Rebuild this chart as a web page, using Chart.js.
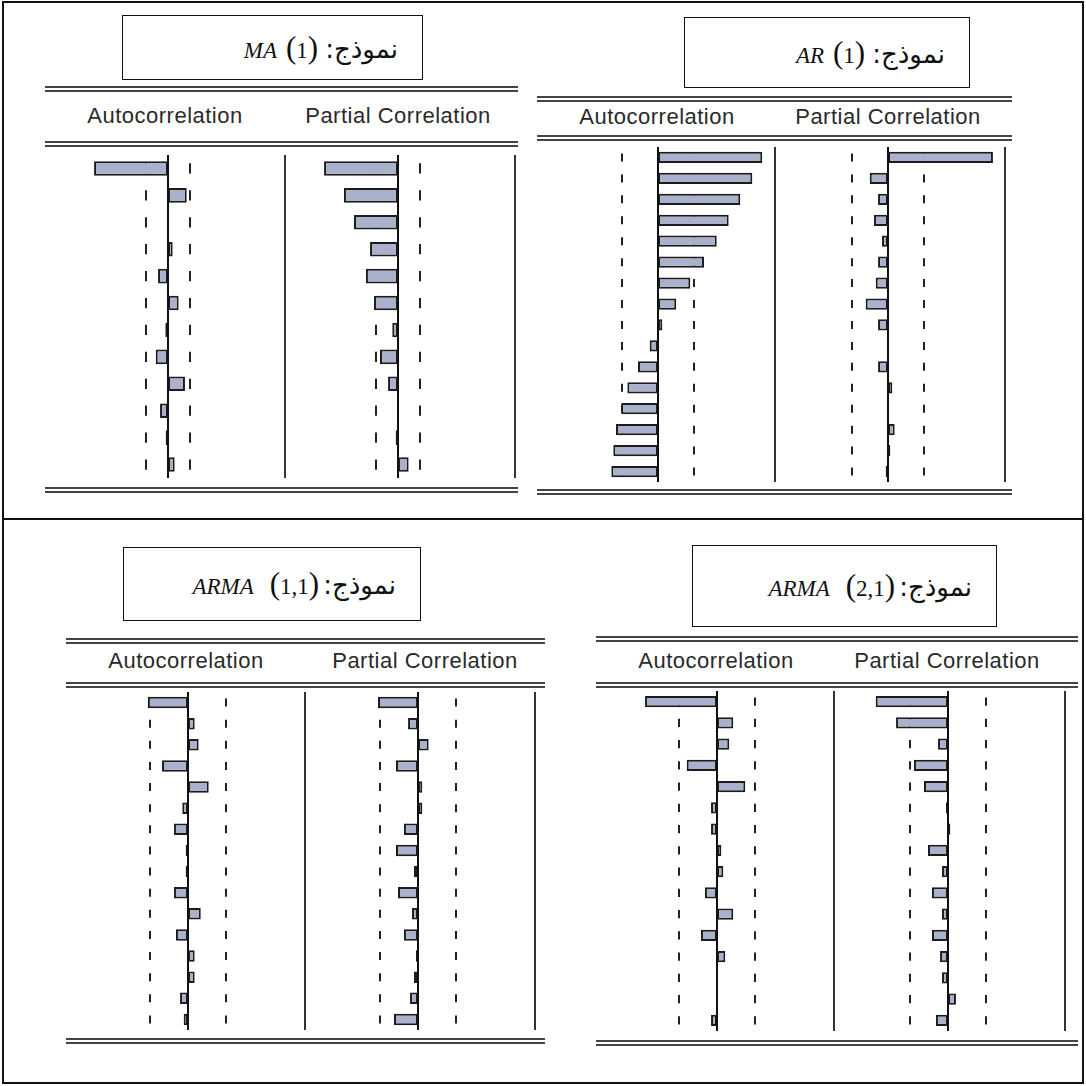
<!DOCTYPE html>
<html>
<head>
<meta charset="utf-8">
<script src="https://cdn.jsdelivr.net/npm/chart.js@4.4.1/dist/chart.umd.min.js"></script>
<style>
  html, body { margin: 0; padding: 0; background: #fff; }
  #page { position: relative; width: 1086px; height: 1086px; background: #fff; overflow: hidden; }
  .ln { position: absolute; background: #444; }
  .fr { position: absolute; background: #111; }
  .hdr { position: absolute; font-family: "Liberation Sans", Arial, sans-serif; font-size: 22px; letter-spacing: 0.5px;
         color: #2a2a2a; white-space: nowrap; transform: translate(-50%, -50%); }
  .tbox { position: absolute; border: 1.5px solid #111; box-sizing: border-box; background: #fff; }
  .tin { position: absolute; right: 24px; top: 50%; transform: translateY(-50%); display: flex; align-items: baseline;
         white-space: nowrap; font-family: "Liberation Serif", "Times New Roman", serif; color: #111; direction: ltr; }
  .lat { font-style: italic; font-size: 23px; }
  .par { font-size: 31px; }
  .num { font-size: 23px; }
  .ar  { font-family: "DejaVu Sans", "Noto Sans", sans-serif; font-size: 26px; unicode-bidi: isolate; }
  canvas { position: absolute; }
</style>
</head>
<body>
<div id="page"></div>
<script>
// ---------------- DATA ----------------
const lags12 = ['1','2','3','4','5','6','7','8','9','10','11','12'];
const lags16 = ['1','2','3','4','5','6','7','8','9','10','11','12','13','14','15','16'];

const headerLabels = ['Autocorrelation', 'Partial Correlation'];
const modelWord = 'نموذج:';
const modelNames = ['MA', 'AR', 'ARMA', 'ARMA'];
const modelOrders = ['1', '1', '1,1', '2,1'];

// MA(1)
const maAcf  = [-0.632, 0.160, 0.000, 0.040, -0.085, 0.091, -0.023, -0.105, 0.145, -0.068, -0.020, 0.057];
const maPacf = [-0.632, -0.462, -0.376, -0.239, -0.274, -0.205, -0.049, -0.154, -0.085, 0.000, -0.020, 0.091];
const maBound = 0.188;

// AR(1)
const arAcf  = [0.891, 0.806, 0.703, 0.604, 0.502, 0.393, 0.276, 0.156, 0.037, -0.071, -0.171, -0.262, -0.314, -0.359, -0.382, -0.399];
const arPacf = [0.897, -0.156, -0.085, -0.120, -0.051, -0.085, -0.105, -0.191, -0.085, 0.000, -0.085, 0.037, 0.000, 0.057, 0.020, -0.020];
const arBound = 0.308;

// ARMA(1,1)
const arma11Acf  = [-0.344, 0.057, 0.091, -0.222, 0.177, -0.049, -0.120, -0.020, -0.020, -0.120, 0.109, -0.103, 0.057, 0.057, -0.068, -0.037];
const arma11Pacf = [-0.342, -0.085, 0.091, -0.188, 0.037, 0.037, -0.120, -0.188, -0.034, -0.171, -0.051, -0.120, -0.017, -0.034, -0.068, -0.205];
const arma11Bound = 0.325;

// ARMA(2,1)
const arma21Acf  = [-0.615, 0.139, 0.105, -0.259, 0.242, -0.051, -0.051, 0.037, 0.054, -0.103, 0.139, -0.137, 0.071, 0.000, 0.000, -0.051];
const arma21Pacf = [-0.618, -0.444, -0.085, -0.291, -0.205, -0.017, 0.020, -0.171, -0.051, -0.137, -0.051, -0.137, -0.068, -0.051, 0.068, -0.103];
const arma21Bound = 0.325;

// ---------------- LAYOUT ----------------
const page = document.getElementById('page');
function div(cls, l, t, w, h) {
  const d = document.createElement('div');
  d.className = cls;
  d.style.left = l + 'px'; d.style.top = t + 'px';
  d.style.width = w + 'px'; d.style.height = h + 'px';
  page.appendChild(d);
  return d;
}
// outer frame
div('fr', 2, 1, 1082, 2);
div('fr', 2, 1082, 1082, 2);
div('fr', 2, 1, 2, 1083);
div('fr', 1082, 1, 2, 1083);
div('fr', 2, 518, 1082, 2);

function dbl(x1, x2, y, gap) {
  div('ln', x1, y, x2 - x1, 2);
  div('ln', x1, y + gap, x2 - x1, 2);
}

const panels = [
  { name: 0, box: [122, 15, 301, 65], x1: 45, x2: 518, lines: [86, 141, 487], hy: 116, hx: [165, 398] },
  { name: 1, box: [684, 17, 286, 71], x1: 537, x2: 1012, lines: [96, 135, 489], hy: 117, hx: [657, 888] },
  { name: 2, box: [123, 547, 298, 74], x1: 66, x2: 545, lines: [638, 682, 1038], hy: 661, hx: [186, 425] },
  { name: 3, box: [692, 545, 305, 82], x1: 596, x2: 1078, lines: [636, 682, 1040], hy: 661, hx: [716, 947] }
];

panels.forEach(p => {
  p.lines.forEach(y => dbl(p.x1, p.x2, y, 4));
  headerLabels.forEach((txt, i) => {
    const h = document.createElement('div');
    h.className = 'hdr';
    h.textContent = txt;
    h.style.left = p.hx[i] + 'px';
    h.style.top = p.hy + 'px';
    page.appendChild(h);
  });
  const b = div('tbox', p.box[0], p.box[1], p.box[2], p.box[3]);
  const inner = document.createElement('div');
  inner.className = 'tin';
  const gap = modelNames[p.name].length > 2 ? 16 : 9;
  inner.innerHTML =
    '<span class="lat">' + modelNames[p.name] + '</span>' +
    '<span style="display:inline-block;width:' + gap + 'px"></span>' +
    '<span class="par">(</span><span class="num">' + modelOrders[p.name] + '</span><span class="par">)</span>' +
    '<span style="display:inline-block;width:' + (p.name < 2 ? 7 : 4) + 'px"></span>' +
    '<span class="ar" dir="rtl">' + modelWord + '</span>';
  b.appendChild(inner);
});

// ---------------- CHARTS ----------------
const U = 117;      // pixels per unit correlation
const PAD = 4;

const plots = [
  { values: maAcf,      labels: lags12, bound: maBound,     zero: 168, top: 155, bottom: 478 },
  { values: maPacf,     labels: lags12, bound: maBound,     zero: 398, top: 155, bottom: 478 },
  { values: arAcf,      labels: lags16, bound: arBound,     zero: 658, top: 147, bottom: 482 },
  { values: arPacf,     labels: lags16, bound: arBound,     zero: 888, top: 147, bottom: 482 },
  { values: arma11Acf,  labels: lags16, bound: arma11Bound, zero: 188, top: 692, bottom: 1030 },
  { values: arma11Pacf, labels: lags16, bound: arma11Bound, zero: 418, top: 692, bottom: 1030 },
  { values: arma21Acf,  labels: lags16, bound: arma21Bound, zero: 717, top: 691, bottom: 1031 },
  { values: arma21Pacf, labels: lags16, bound: arma21Bound, zero: 948, top: 691, bottom: 1031 }
];

const correlogram = {
  id: 'correlogram',
  beforeDatasetsDraw(chart, args, opts) {
    const ctx = chart.ctx, xs = chart.scales.x, ys = chart.scales.y;
    const n = chart.data.labels.length;
    const band = (chart.chartArea.bottom - chart.chartArea.top) / n;
    const len = band * 0.38;
    ctx.save();
    ctx.strokeStyle = '#222';
    ctx.lineWidth = 2;
    [-opts.bound, opts.bound].forEach(v => {
      const x = Math.round(xs.getPixelForValue(v)) ;
      for (let i = 0; i < n; i++) {
        const y = ys.getPixelForValue(i);
        ctx.beginPath();
        ctx.moveTo(x, y - len / 2);
        ctx.lineTo(x, y + len / 2);
        ctx.stroke();
      }
    });
    ctx.restore();
  },
  afterDatasetsDraw(chart) {
    const ctx = chart.ctx, xs = chart.scales.x, a = chart.chartArea;
    ctx.save();
    ctx.lineWidth = 2;
    ctx.strokeStyle = '#111';
    const x0 = Math.round(xs.getPixelForValue(0));
    ctx.beginPath(); ctx.moveTo(x0, a.top); ctx.lineTo(x0, a.bottom); ctx.stroke();
    ctx.strokeStyle = '#333';
    const x1 = Math.round(xs.getPixelForValue(1));
    ctx.beginPath(); ctx.moveTo(x1, a.top); ctx.lineTo(x1, a.bottom); ctx.stroke();
    ctx.restore();
  }
};

plots.forEach(p => {
  const c = document.createElement('canvas');
  const w = 2 * U + 2 * PAD, h = p.bottom - p.top;
  c.width = w; c.height = h;
  c.style.width = w + 'px'; c.style.height = h + 'px';
  c.style.left = (p.zero - U - PAD) + 'px';
  c.style.top = p.top + 'px';
  page.appendChild(c);
  new Chart(c, {
    type: 'bar',
    data: {
      labels: p.labels,
      datasets: [{
        data: p.values,
        backgroundColor: '#a9b1cd',
        borderColor: '#1c1c1c',
        borderWidth: 2,
        borderSkipped: false,
        barPercentage: 0.54,
        categoryPercentage: 1
      }]
    },
    options: {
      indexAxis: 'y',
      responsive: false,
      animation: false,
      events: [],
      layout: { padding: { left: PAD, right: PAD, top: 0, bottom: 0 } },
      plugins: { legend: { display: false }, tooltip: { enabled: false }, correlogram: { bound: p.bound } },
      scales: {
        x: { type: 'linear', min: -1, max: 1, display: false },
        y: { type: 'category', display: false, offset: true }
      }
    },
    plugins: [correlogram]
  });
});
</script>
</body>
</html>
